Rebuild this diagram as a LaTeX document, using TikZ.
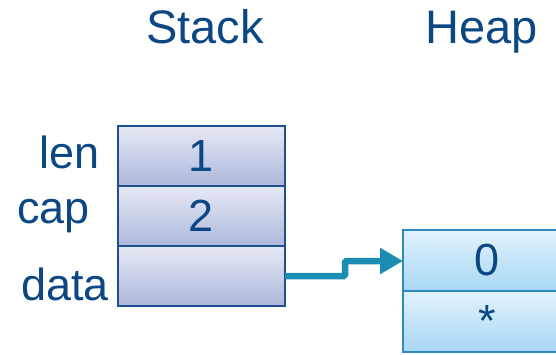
\documentclass[tikz,border=0pt]{standalone}
\usepackage{fontspec}
\setmainfont{Liberation Sans}
\usetikzlibrary{arrows.meta,shadows}

\definecolor{textblue}{HTML}{0B4783}
\definecolor{stackedge}{HTML}{1E4F8F}
\definecolor{stacktop}{HTML}{E6E9F5}
\definecolor{stackbot}{HTML}{ADB7DB}
\definecolor{heapedge}{HTML}{2E8BC0}
\definecolor{heaptop}{HTML}{E2F2FD}
\definecolor{heapbot}{HTML}{A8D7F4}
\definecolor{pointer}{HTML}{1B8DB3}

\tikzset{
  title/.style={text=textblue, font=\fontsize{47}{50}\selectfont, inner sep=0pt, anchor=base west},
  field/.style={text=textblue, font=\fontsize{45}{48}\selectfont, inner sep=0pt, anchor=base west},
  cell/.style={minimum width=167pt, minimum height=60pt, inner sep=0pt, outer sep=0pt,
    text=textblue, font=\fontsize{45}{48}\selectfont, line width=1.4pt},
  stackcell/.style={cell, draw=stackedge, top color=stacktop, bottom color=stackbot,
    drop shadow={opacity=0.25, shadow xshift=1.2pt, shadow yshift=-1.2pt}},
  heapcell/.style={cell, minimum width=168pt, minimum height=61pt, draw=heapedge,
    top color=heaptop, bottom color=heapbot},
  ptr/.style={draw=pointer, line width=6.5pt, rounded corners=1.5pt,
    -{Triangle[length=23pt, width=25pt]}}
}

\begin{document}
\begin{tikzpicture}[x=1pt, y=-1pt]
  \useasboundingbox (0,0) rectangle (556,354);
  \clip (0,0) rectangle (556,354);

  % column titles
  \node[title] (stacktitle) at (146,43) {Stack};
  \node[title] (heaptitle) at (425,43) {Heap};

  % slice header on the stack
  \node[stackcell] (s1) at (201.5,156) {1};
  \node[stackcell] (s2) at (201.5,216) {2};
  \node[stackcell] (s3) at (201.5,276) {};

  % field names
  \node[field, anchor=base east] (len) at (100,168) {len};
  \node[field] (cap) at (17,223) {cap};
  \node[field] (data) at (21,300) {data};

  % backing array on the heap
  \node[heapcell] (h0) at (487,260.5) {0};
  \node[heapcell] (h1) at (487,321.5) {*};

  % data pointer
  \coordinate (bend) at (345,276);
  \draw[ptr] (s3.east) -- (bend) -- (345,261) -- (h0.west |- 0,261);
\end{tikzpicture}
\end{document}
